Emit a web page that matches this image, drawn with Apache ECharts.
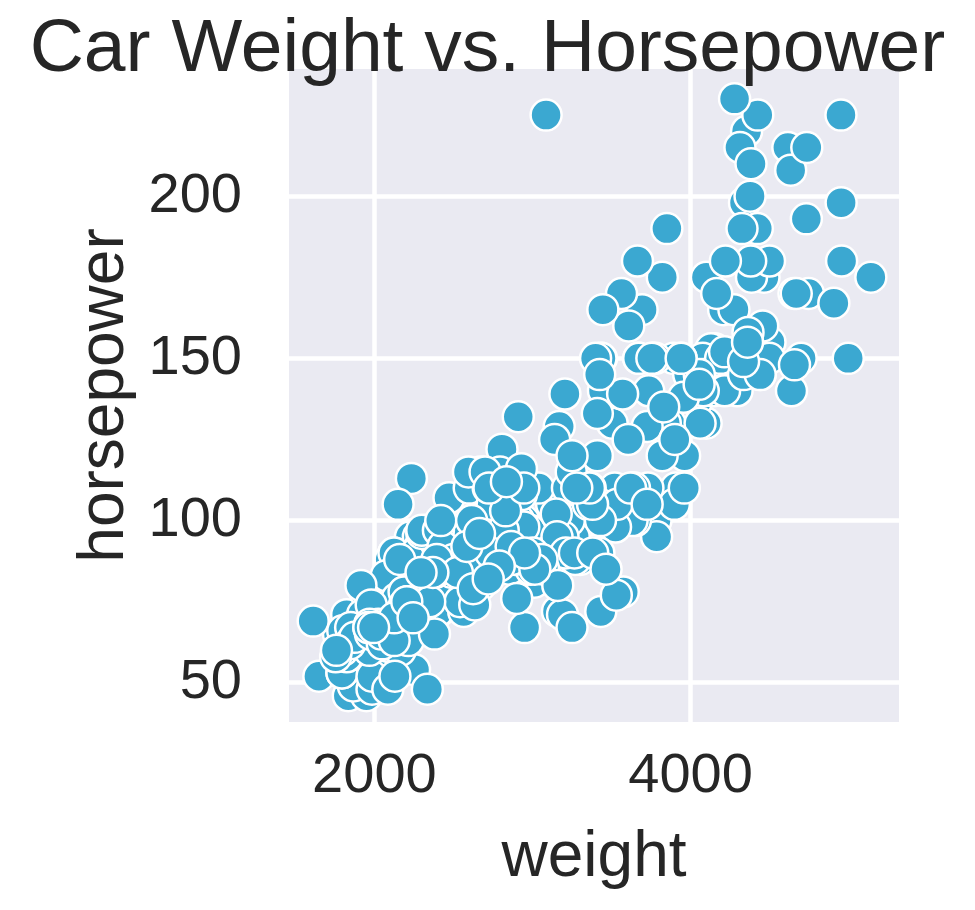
<!DOCTYPE html>
<html>
<head>
<meta charset="utf-8">
<script src="https://cdn.jsdelivr.net/npm/echarts@6/dist/echarts.min.js"></script>
<style>
  html, body { margin: 0; padding: 0; background: #ffffff; }
  #chart { width: 975px; height: 910px; }
</style>
</head>
<body>
<div id="chart"></div>
<script>
// ---- Data: car weight (lbs) and horsepower ----
const weight = [
  3504,3693,3436,3433,3449,4341,4354,4312,4425,3850,3563,3609,3761,3086,2372,2833,2774,2587,2130,1835,2672,2430,2375,2234,2648,4615,4376,4382,4732,
  2130,2264,2228,2634,3439,3329,3302,3288,4209,4464,4154,4096,4955,4746,5140,2962,2408,3282,3139,2220,2123,2074,2065,1773,1613,1834,1955,
  2278,2126,2254,2408,2226,4274,4385,4135,4129,3672,4633,4502,4456,4422,2330,3892,4098,4294,4077,2933,2511,2979,2189,2395,2288,2506,2164,2100,
  4100,3672,3988,4042,3777,4952,4464,4363,4237,4735,4951,3821,3121,3278,2945,3021,2904,1950,4997,4906,4654,4499,2789,2279,2401,2379,2124,2310,2472,2265,4082,4278,1867,2158,2582,2868,3399,2660,2807,3664,
  3102,2901,3336,1950,2451,1836,2542,3781,3632,3613,4141,4699,4457,4638,4257,2219,1963,2300,1649,2003,2125,2108,2246,2489,2391,2000,
  3264,3459,3432,3158,4668,4440,4498,4657,3907,3897,3730,3785,3039,3221,3169,2171,2639,2914,2592,2702,2223,2545,2984,1937,3211,2694,2957,2945,2671,1795,
  2464,2220,2572,2255,2202,4215,4190,3962,4215,3233,3353,3012,3085,2035,2164,1937,1795,3651,3574,3645,3193,1825,1990,2155,2565,3150,3940,3270,2930,3820,4380,4055,3870,3755,
  2045,2155,1825,2300,1945,4335,3960,4440,4060,3520,3425,3630,3525,4220,4165,4325,4335,1940,2740,2265,2755,2051,2075,1985,2190,2815,2600,2720,
  1985,1800,1985,2070,1800,3365,3735,3570,3535,3155,2965,2720,3430,3210,3380,3070,3620,3410,3425,3445,3205,4080,2155,2560,2300,2230,2515,2745,2855,2405,2830,3140,2795,3410,1990,2135,
  3245,2990,2890,3265,3360,3840,3725,3955,3830,4360,4054,3605,3940,1925,1975,1915,2670,3530,3900,3190,3420,2200,2150,2020,2130,2670,2595,2700,2556,
  2144,1968,2120,2019,2678,2870,3003,3381,2188,2711,2542,2434,2265,1975,2150,2020,2085,2335,2950,3250,1850,2145,1845,2910,2420,2500,2290,
  2490,2635,2620,2725,2385,1755,1875,1760,2065,1975,2050,1985,2215,2045,2380,2190,2210,2350,2615,2635,3160,2900,2930,3250,3280,3725,3060,3465,
  2605,2640,2395,2575,2525,2735,2865,1980,2025,1970,2125,2125,2160,2205,2245,1965,1965,1995,2945,3015,2585,2835,2665,2370,2950,2790,2130,2295,2625,2720
];
const horsepower = [
  130,165,150,150,140,198,220,215,225,190,170,160,150,225,95,95,97,85,88,46,87,90,95,113,90,215,200,210,193,
  88,90,95,100,105,100,88,100,165,175,153,150,180,170,175,110,72,100,88,86,90,70,76,65,69,60,70,
  95,80,54,90,86,165,175,150,153,150,208,155,160,190,97,150,130,140,150,112,76,87,69,86,92,97,80,88,
  175,150,145,137,150,198,150,158,150,215,225,175,105,100,100,88,95,46,150,167,170,180,100,88,72,94,90,85,107,90,145,230,49,75,91,112,150,110,122,180,
  95,100,100,67,80,65,75,100,110,105,140,150,150,140,150,83,67,78,52,61,75,75,75,97,93,67,
  95,105,72,72,170,145,150,148,110,105,110,95,110,110,129,75,83,100,78,96,71,97,97,70,90,95,88,98,115,53,
  86,81,92,79,83,140,150,120,152,100,105,81,90,52,60,70,53,100,78,110,95,71,70,75,72,102,150,88,108,120,180,145,130,150,
  68,80,58,96,70,145,110,145,130,110,105,100,98,180,170,190,149,78,88,75,89,63,83,67,78,97,110,110,
  48,66,52,70,60,110,140,139,105,95,85,88,100,90,105,85,110,120,145,165,139,140,68,95,97,75,95,105,85,97,103,125,115,133,71,68,
  115,85,88,90,110,130,129,138,135,155,142,125,150,71,65,80,80,77,125,71,90,70,70,65,69,90,115,115,90,
  76,60,70,65,90,88,90,90,78,90,75,92,75,65,105,65,48,48,67,67,67,67,62,132,100,88,72,
  84,84,92,110,84,58,64,60,67,65,62,68,63,65,65,74,75,75,100,74,80,76,116,120,110,105,88,85,
  88,88,88,85,84,90,92,74,68,68,63,70,88,75,70,67,67,67,110,85,92,112,96,84,90,86,52,84,79,82
];
// Axis ranges (data units) and labels
const xRange = [1460, 5318];
const yRange = [37.9, 239.2];
const chartTitle = 'Car Weight vs. Horsepower';
const xName = 'weight';
const yName = 'horsepower';

const points = weight.map((w, i) => [w, horsepower[i]]);

const FONT = '"Liberation Sans", Arial, Helvetica, sans-serif';
const TXT = '#262626';

const chart = echarts.init(document.getElementById('chart'), null, { renderer: 'canvas' });
chart.setOption({
  animation: false,
  backgroundColor: '#ffffff',
  textStyle: { fontFamily: FONT },
  title: {
    text: chartTitle,
    left: 'center',
    top: 8,
    textStyle: { fontSize: 75, fontWeight: 'normal', color: TXT, fontFamily: FONT }
  },
  grid: {
    left: 289, right: 76, top: 69, bottom: 188,
    show: true, backgroundColor: '#EAEAF2', borderWidth: 0,
    containLabel: false
  },
  xAxis: {
    type: 'value',
    min: xRange[0], max: xRange[1],
    splitNumber: 2,
    name: xName,
    nameLocation: 'middle',
    nameGap: 104,
    nameTextStyle: { fontSize: 64, color: TXT, fontFamily: FONT },
    axisLine: { show: false },
    axisTick: { show: false },
    axisLabel: {
      fontSize: 56, color: TXT, margin: 27, showMinLabel: false, showMaxLabel: false, fontFamily: FONT,
      formatter: v => String(v)
    },
    splitLine: { show: true, showMinLine: false, showMaxLine: false, lineStyle: { color: '#ffffff', width: 4.5 } }
  },
  yAxis: {
    type: 'value',
    min: yRange[0], max: yRange[1],
    splitNumber: 5,
    name: yName,
    nameLocation: 'middle',
    nameRotate: 90,
    nameGap: 148,
    nameTextStyle: { fontSize: 64, color: TXT, fontFamily: FONT },
    axisLine: { show: false },
    axisTick: { show: false },
    axisLabel: {
      fontSize: 56, color: TXT, margin: 47, showMinLabel: false, showMaxLabel: false, fontFamily: FONT,
      formatter: v => String(v)
    },
    splitLine: { show: true, showMinLine: false, showMaxLine: false, lineStyle: { color: '#ffffff', width: 4.5 } }
  },
  series: [{
    type: 'scatter',
    data: points,
    symbol: 'circle',
    symbolSize: 31,
    itemStyle: { color: '#3BA8D1', borderColor: '#ffffff', borderWidth: 2.5, opacity: 1 },
    emphasis: { disabled: true }
  }]
});
</script>
</body>
</html>
